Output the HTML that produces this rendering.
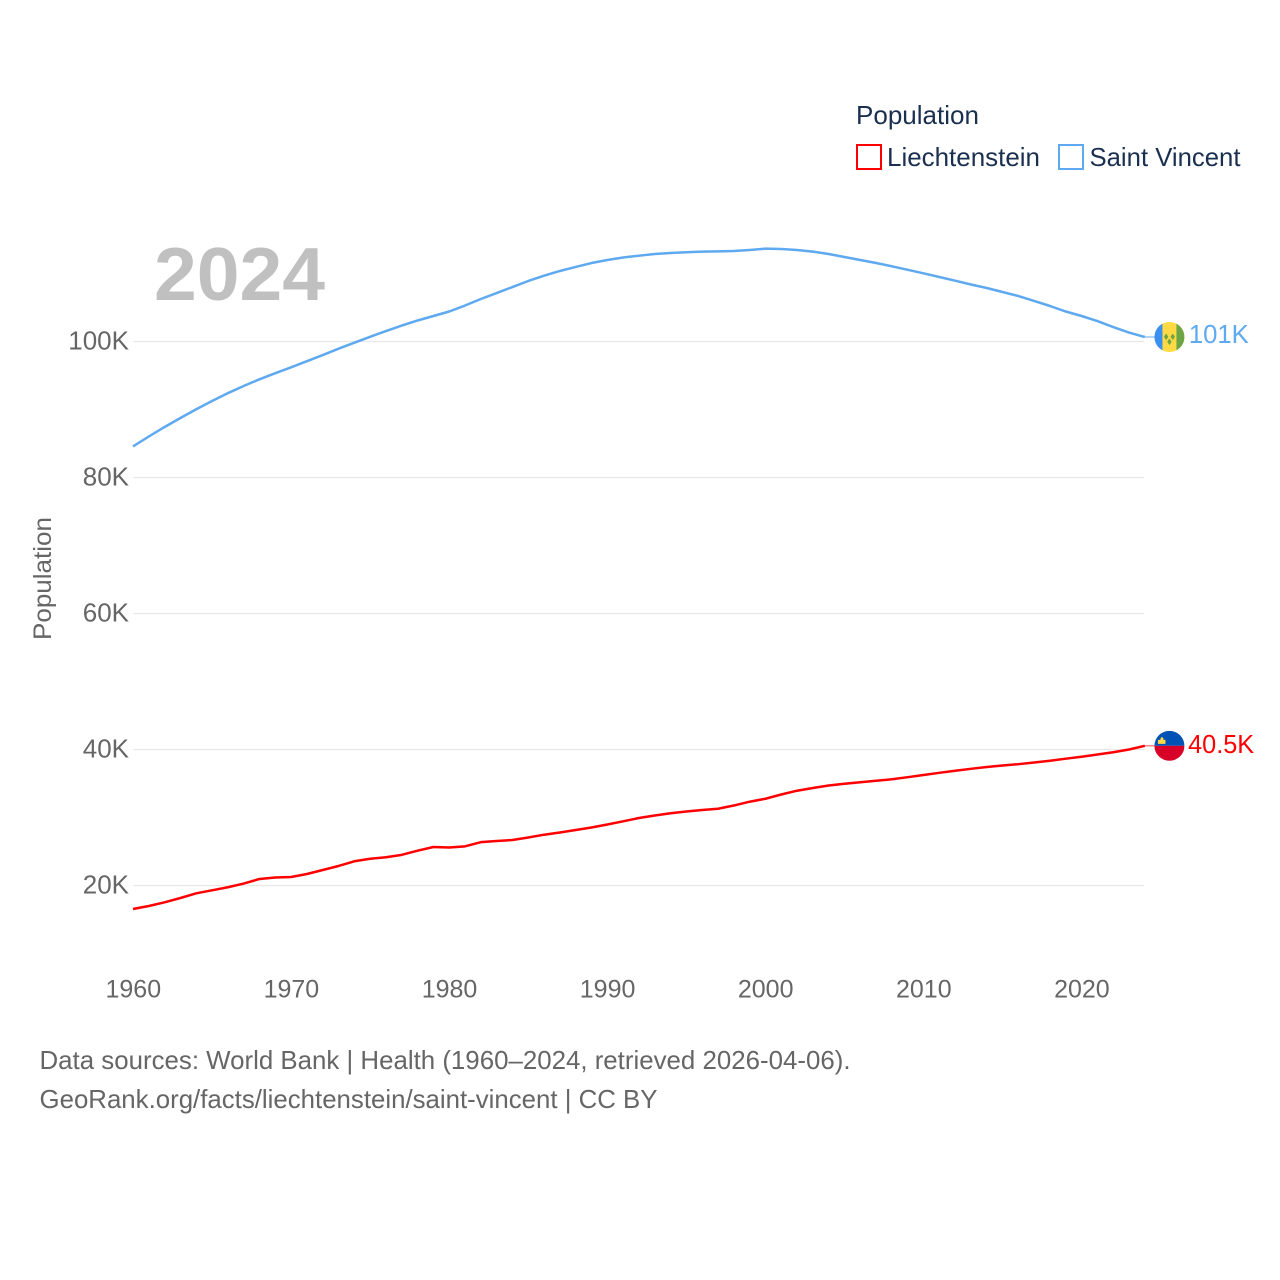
<!DOCTYPE html>
<html lang="en">
<head>
<meta charset="utf-8">
<title>Population: Liechtenstein and Saint Vincent</title>
<style>
html,body{margin:0;padding:0;background:#fff;width:1280px;height:1280px;overflow:hidden}
svg{display:block}
text{font-family:"Liberation Sans",sans-serif}
</style>
</head>
<body>
<svg id="chart" xmlns="http://www.w3.org/2000/svg" width="1280" height="1280" viewBox="0 0 1280 1280">
  <rect x="0" y="0" width="1280" height="1280" fill="#ffffff"/>
  <g id="grid"></g>
  <g id="yticks"></g>
  <g id="xticks"></g>
  <text x="154" y="300" font-size="75" font-weight="700" fill="#c0c0c0" textLength="171" lengthAdjust="spacingAndGlyphs">2024</text>
  <text transform="translate(51,640) rotate(-90)" font-size="25" fill="#666666" textLength="123" lengthAdjust="spacingAndGlyphs">Population</text>
  <g id="series"></g>
  <g>
    <text x="856" y="124" font-size="26" fill="#1b3050" textLength="123" lengthAdjust="spacingAndGlyphs">Population</text>
    <g>
      <rect x="857" y="145" width="24" height="24" fill="none" stroke="#ff0000" stroke-width="2"/>
      <text x="887" y="166" font-size="26" fill="#1b3050" textLength="153" lengthAdjust="spacingAndGlyphs">Liechtenstein</text>
    </g>
    <g>
      <rect x="1059" y="145" width="24" height="24" fill="none" stroke="#5ea9ef" stroke-width="2"/>
      <text x="1089.500" y="166" font-size="26" fill="#1b3050" textLength="151" lengthAdjust="spacingAndGlyphs">Saint Vincent</text>
    </g>
  </g>
  <g id="flag-vc"></g>
  <g id="flag-li"></g>
  <text x="39.500" y="1069" font-size="26" fill="#666666" textLength="811" lengthAdjust="spacingAndGlyphs">Data sources: World Bank | Health (1960–2024, retrieved 2026-04-06).</text>
  <text x="39.500" y="1108" font-size="26" fill="#666666" textLength="618" lengthAdjust="spacingAndGlyphs">GeoRank.org/facts/liechtenstein/saint-vincent | CC BY</text>
</svg>
<script>
const startYear = 1960;
const xTickYears = [1960, 1970, 1980, 1990, 2000, 2010, 2020];
const yTickValues = [20, 40, 60, 80, 100];
const yTickLabels = ["20K", "40K", "60K", "80K", "100K"];
const liechtensteinValues = [16.54,16.99,17.53,18.16,18.85,19.29,19.74,20.29,20.96,21.18,21.25,21.69,22.28,22.87,23.56,23.93,24.15,24.51,25.12,25.66,25.59,25.76,26.37,26.54,26.69,27.06,27.47,27.79,28.16,28.53,28.97,29.44,29.93,30.29,30.62,30.88,31.1,31.29,31.76,32.32,32.76,33.38,33.94,34.34,34.71,34.97,35.18,35.4,35.62,35.93,36.25,36.57,36.88,37.16,37.43,37.65,37.84,38.09,38.35,38.65,38.94,39.26,39.59,40,40.54];
const saintVincentValues = [84.56,86.03,87.43,88.75,90.04,91.25,92.4,93.46,94.44,95.34,96.21,97.1,98.01,98.94,99.82,100.69,101.54,102.34,103.09,103.75,104.41,105.29,106.25,107.13,108.01,108.9,109.68,110.37,110.96,111.54,111.99,112.35,112.62,112.87,113.01,113.13,113.21,113.26,113.31,113.46,113.65,113.6,113.46,113.21,112.87,112.43,111.99,111.54,111.06,110.54,110.03,109.49,108.94,108.38,107.87,107.28,106.69,105.96,105.22,104.41,103.75,103.01,102.13,101.32,100.66];
const liechtensteinEndLabel = "40.5K";
const saintVincentEndLabel = "101K";

const NS = "http://www.w3.org/2000/svg";
function xScale(year) { return 133 + (year - 1960) * 15.81; }
function yScale(value) { return 885.5 - (value - 20) * 6.8; }
function make(tag, attrs, parent, txt) {
  const el = document.createElementNS(NS, tag);
  for (const k in attrs) el.setAttribute(k, attrs[k]);
  if (txt !== undefined) el.textContent = txt;
  parent.appendChild(el);
  return el;
}
const gridG = document.getElementById("grid");
const yG = document.getElementById("yticks");
const xG = document.getElementById("xticks");
const seriesG = document.getElementById("series");

yTickValues.forEach(function (v, i) {
  const line = make("line", {x1: 133, x2: 1144, y1: yScale(v), y2: yScale(v), stroke: "#e8e8e8", "stroke-width": 1.3}, gridG);
  
  
  const label = make("text", {x: 129, y: yScale(v) + 8, "text-anchor": "end", "font-size": 26, fill: "#666666"}, yG, yTickLabels[i]);
  
  
});
xTickYears.forEach(function (year) {
  const label = make("text", {x: xScale(year) + 0.3, y: 997.5, "text-anchor": "middle", "font-size": 25, fill: "#666666"}, xG, String(year));
  
  
});
function pathFrom(values) {
  return values.map(function (v, i) {
    return (i ? "L" : "M") + xScale(startYear + i).toFixed(2) + " " + yScale(v).toFixed(2);
  }).join(" ");
}
function lastPoint(values) {
  return {x: xScale(startYear + values.length - 1), y: yScale(values[values.length - 1])};
}

const vcLine = make("path", {d: pathFrom(saintVincentValues), fill: "none", stroke: "#5ea9ef", "stroke-width": 2.5, "stroke-linejoin": "round"}, seriesG);


const liLine = make("path", {d: pathFrom(liechtensteinValues), fill: "none", stroke: "#ff0000", "stroke-width": 2.5, "stroke-linejoin": "round"}, seriesG);



const vcEnd = lastPoint(saintVincentValues);
const liEnd = lastPoint(liechtensteinValues);
const vcLead = make("line", {x1: vcEnd.x, x2: vcEnd.x + 10, y1: vcEnd.y, y2: vcEnd.y, stroke: "#5ea9ef", "stroke-width": 1}, seriesG);


const liLead = make("line", {x1: liEnd.x, x2: liEnd.x + 10, y1: liEnd.y, y2: liEnd.y, stroke: "#ff0000", "stroke-width": 1, opacity: 0.7}, seriesG);



const vcLabel = make("text", {x: vcEnd.x + 44, y: vcEnd.y + 6, "font-size": 26, fill: "#5ea9ef", textLength: 60, lengthAdjust: "spacingAndGlyphs"}, seriesG, saintVincentEndLabel);


const liLabel = make("text", {x: liEnd.x + 43.3, y: liEnd.y + 7, "font-size": 26, fill: "#ff0000", textLength: 66, lengthAdjust: "spacingAndGlyphs"}, seriesG, liechtensteinEndLabel);



const vcFlag = document.getElementById("flag-vc");
vcFlag.setAttribute("transform", "translate(" + (vcEnd.x + 24.6) + "," + vcEnd.y + ")");
vcFlag.innerHTML =
  '<clipPath id="cv"><circle r="15"/></clipPath>' +
  '<g clip-path="url(#cv)">' +
  '<rect x="-15" y="-15" width="30" height="30" fill="#ffda44"/>' +
  '<rect x="-15" y="-15" width="8" height="30" fill="#3b8ff3"/>' +
  '<rect x="7" y="-15" width="8" height="30" fill="#6da544"/>' +
  '<path d="M-3.300 -3.500l2.200 3.300 -2.200 3.300 -2.200 -3.300z M3.300 -3.500l2.200 3.300 -2.200 3.300 -2.200 -3.300z M0 1.500l2.200 3.300 -2.200 3.300 -2.200 -3.300z" fill="#6da544"/>' +
  '</g>';

const liFlag = document.getElementById("flag-li");
liFlag.setAttribute("transform", "translate(" + (liEnd.x + 24.6) + "," + liEnd.y + ")");
liFlag.innerHTML =
  '<clipPath id="cl"><circle r="15"/></clipPath>' +
  '<g clip-path="url(#cl)">' +
  '<rect x="-15" y="-15" width="30" height="15" fill="#0052b4"/>' +
  '<rect x="-15" y="0" width="30" height="15" fill="#d80027"/>' +
  '<path d="M-11.500 -2v-4h2.500v-1.500l1.500 -1.500 1.500 1.500v1.500h2v4z" fill="#ffda44"/>' +
  '</g>';
</script>
</body>
</html>
